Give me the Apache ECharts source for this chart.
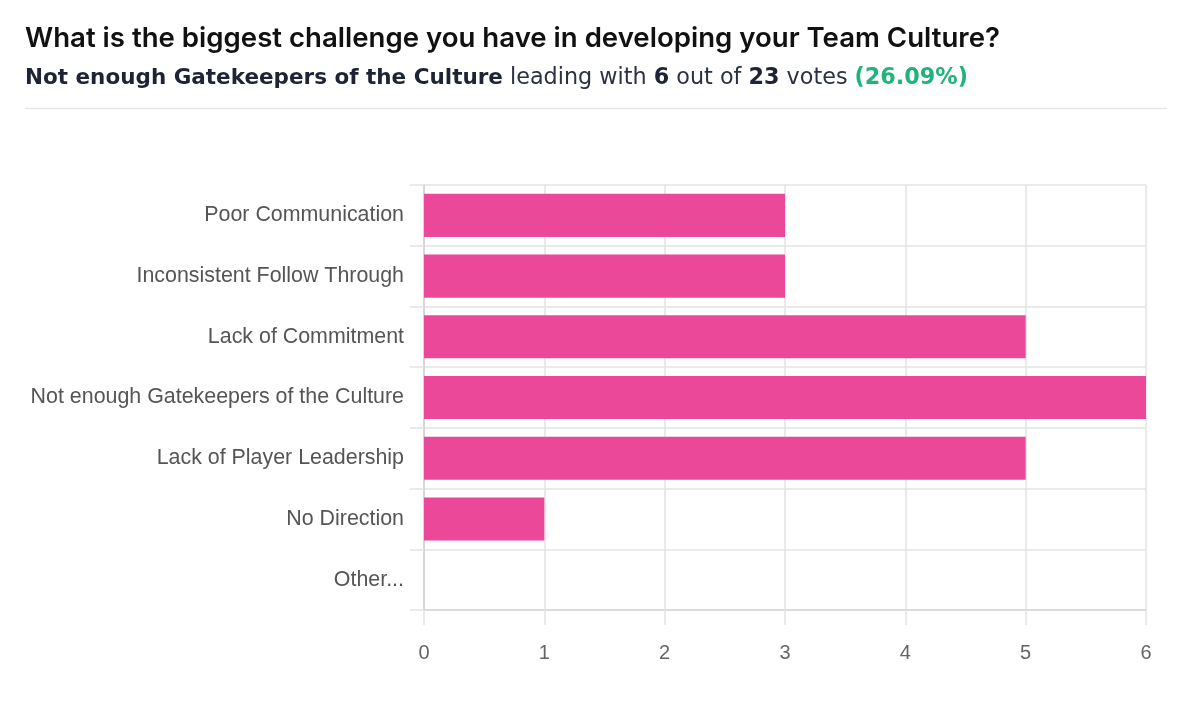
<!DOCTYPE html>
<html>
<head>
<meta charset="utf-8">
<script src="https://cdn.jsdelivr.net/npm/echarts@6/dist/echarts.min.js"></script>
<style>
html,body{margin:0;padding:0;background:#fff;}
#chart{width:1200px;height:704px;}
</style>
</head>
<body>
<div id="chart"></div>
<script>
const questionTitle = 'What is the biggest challenge you have in developing your Team Culture?';
const categories = [
  'Poor Communication',
  'Inconsistent Follow Through',
  'Lack of Commitment',
  'Not enough Gatekeepers of the Culture',
  'Lack of Player Leadership',
  'No Direction',
  'Other...'
];
const votes = [3, 3, 5, 6, 5, 1, 0];
const totalVotes = 23;
const xTicks = [0, 1, 2, 3, 4, 5, 6];

let leadIdx = 0;
votes.forEach((v, i) => { if (v > votes[leadIdx]) leadIdx = i; });
const pct = (votes[leadIdx] / totalVotes * 100).toFixed(2);

const chart = echarts.init(document.getElementById('chart'));
const subFont = 'DejaVu Sans';
const option = {
  animation: false,
  backgroundColor: '#fff',
  title: [{
    text: questionTitle,
    left: 25,
    top: 25,
    padding: 0,
    textStyle: { fontFamily: 'Inter', fontSize: 27.6, fontWeight: 600, color: '#111111', lineHeight: 28 }
  }, {
    text: '{b|' + categories[leadIdx] + '}{n| leading with }{d|' + votes[leadIdx] + '}{n| out of }{d|' + totalVotes + '}{n| votes }{g|(' + pct + '%)}',
    left: 25,
    top: 67,
    padding: 0,
    textStyle: {
      rich: {
        b: { fontFamily: subFont, fontSize: 21.5, fontWeight: 'bold', color: '#1e2433', lineHeight: 23 },
        d: { fontFamily: subFont, fontSize: 22.3, fontWeight: 'bold', color: '#1e2433', lineHeight: 23 },
        n: { fontFamily: subFont, fontSize: 22.3, fontWeight: 'normal', color: '#2b3142', lineHeight: 23 },
        g: { fontFamily: subFont, fontSize: 22.3, fontWeight: 'bold', color: '#1fb57a', lineHeight: 23 }
      }
    }
  }],
  graphic: [{
    type: 'line',
    shape: { x1: 25, y1: 108.5, x2: 1167, y2: 108.5 },
    style: { stroke: '#e6e6e6', lineWidth: 1.5 }
  }],
  grid: { left: 424, right: 54, top: 185, bottom: 94, containLabel: false },
  xAxis: {
    type: 'value',
    min: 0,
    max: 6,
    interval: 1,
    axisLine: { show: true, lineStyle: { color: '#d6d6d6', width: 1.5 } },
    axisTick: { show: true, length: 15, lineStyle: { color: '#e3e3e3', width: 1.5 } },
    splitLine: { show: true, lineStyle: { color: '#e3e3e3', width: 1.5 } },
    axisLabel: {
      margin: 33,
      fontFamily: 'Liberation Sans',
      fontSize: 20,
      color: '#666666',
      formatter: v => xTicks.includes(v) ? String(v) : ''
    }
  },
  yAxis: {
    type: 'category',
    inverse: true,
    data: categories,
    axisLine: { show: true, lineStyle: { color: '#d0d0d0', width: 1.5 } },
    axisTick: { show: true, length: 14, alignWithLabel: false, lineStyle: { color: '#e3e3e3', width: 1.5 } },
    splitLine: { show: true, lineStyle: { color: '#e3e3e3', width: 1.5 } },
    axisLabel: {
      margin: 20,
      fontFamily: 'Liberation Sans',
      fontSize: 21.4,
      color: '#555555',
      padding: [4, 0, 0, 0]
    }
  },
  series: [{
    type: 'bar',
    data: votes,
    barCategoryGap: '29%',
    itemStyle: { color: '#ec4899' },
    z: 3
  }]
};
chart.setOption(option);
</script>
</body>
</html>
